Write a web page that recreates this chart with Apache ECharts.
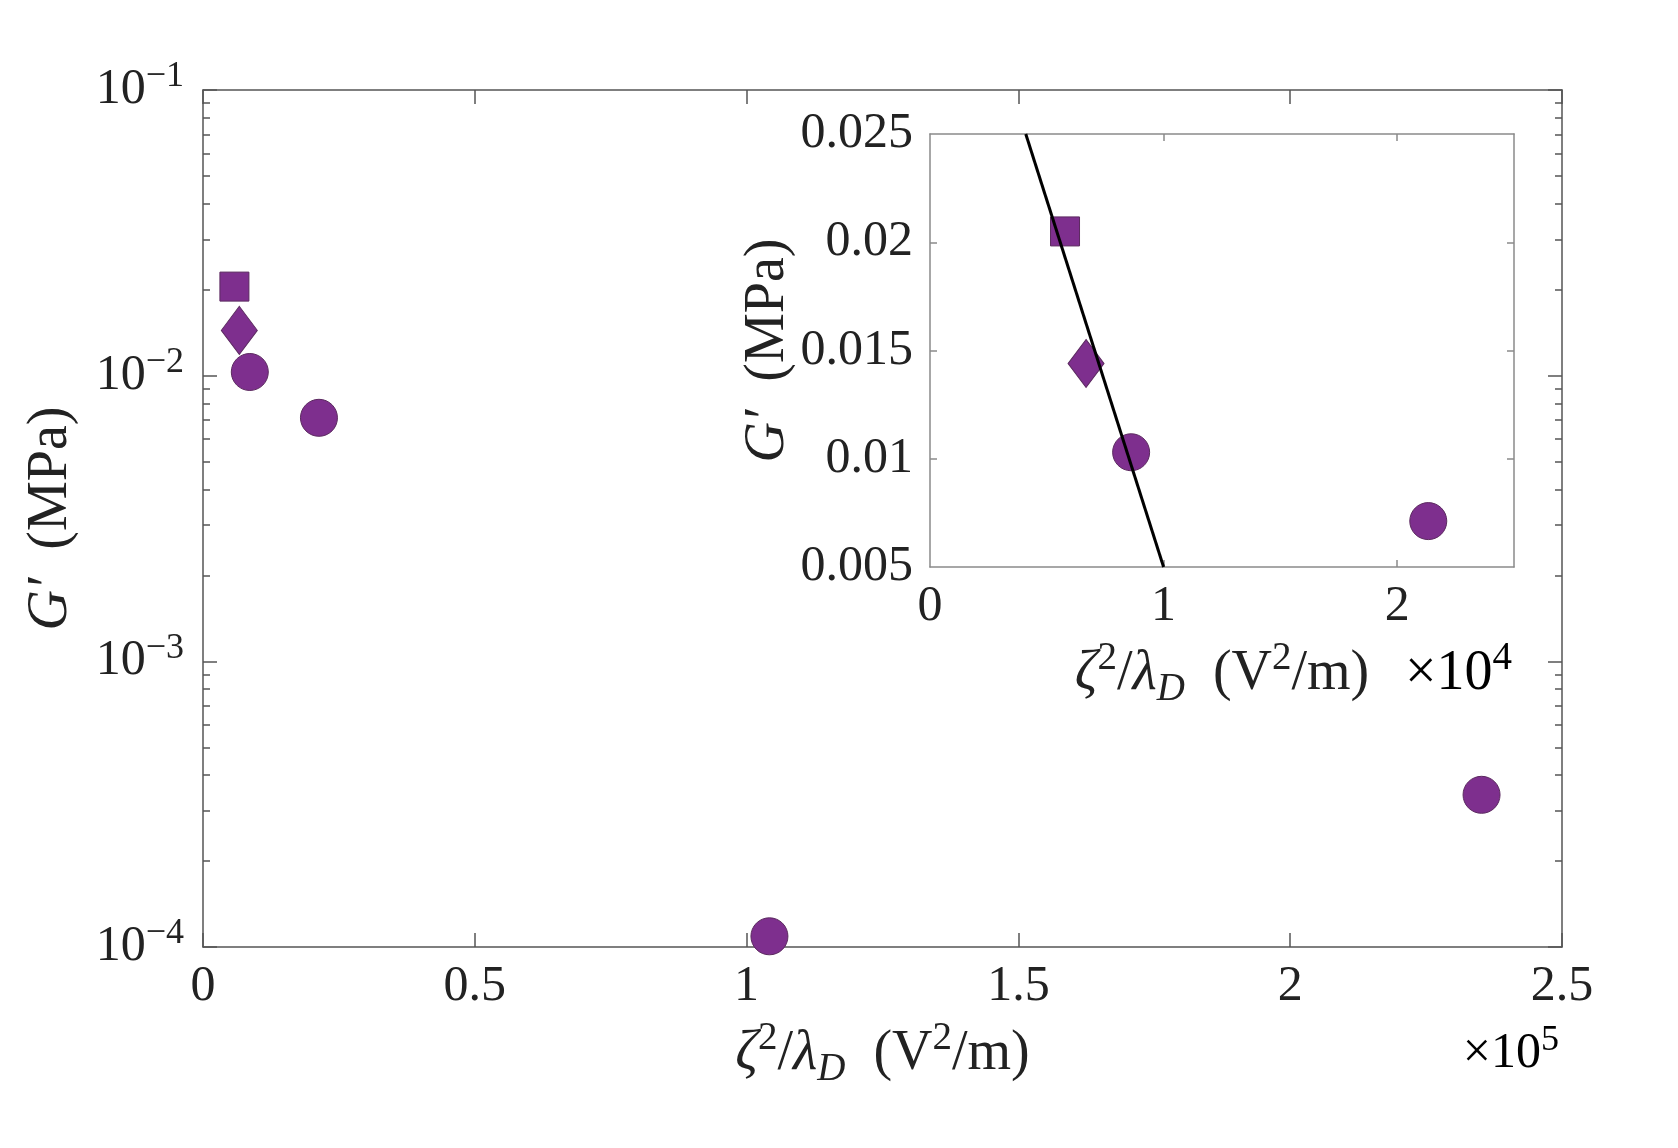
<!DOCTYPE html>
<html>
<head>
<meta charset="utf-8">
<script src="https://cdn.jsdelivr.net/npm/echarts@6/dist/echarts.min.js"></script>
<style>
html, body { margin: 0; padding: 0; background: #fff; }
#chart { width: 1678px; height: 1148px; }
</style>
</head>
<body>
<div id="chart"></div>
<script>
// G' against zeta^2/lambda_D, one marker shape per sample group
var squareX = [5780];
var squareG = [0.0205];
var diamondX = [6680];
var diamondG = [0.0144];
var circleX = [8610, 21330, 104200, 235200];
var circleG = [0.0103, 0.00712, 0.000109, 0.000341];

// straight fit drawn in the inset (ends on the inset frame)
var fitX = [4100, 10000];
var fitG = [0.025, 0.005];

// tick labels
var mainXTicks = ['0', '0.5', '1', '1.5', '2', '2.5'];
var mainYExps = ['−4', '−3', '−2', '−1'];
var mainYMinor = [2e-4, 3e-4, 4e-4, 5e-4, 6e-4, 7e-4, 8e-4, 9e-4,
                  2e-3, 3e-3, 4e-3, 5e-3, 6e-3, 7e-3, 8e-3, 9e-3,
                  2e-2, 3e-2, 4e-2, 5e-2, 6e-2, 7e-2, 8e-2, 9e-2];
var insetXTicks = ['0', '1', '2'];
var insetYTicks = ['0.005', '0.01', '0.015', '0.02', '0.025'];

var FONT = 'Liberation Serif';
var TXT = '#222';
var PURPLE = '#7E2F8E';
var EDGE = '#5c2a60';
var MAIN_LINE = '#555';
var INSET_LINE = '#8a8a8a';

// tick label text
var rich = {
    r: {fontFamily: FONT, fontSize: 50, color: TXT, lineHeight: 62, verticalAlign: 'middle'},
    sup: {fontFamily: FONT, fontSize: 36, color: TXT, lineHeight: 38, verticalAlign: 'top'}
};
// axis titles
var nameRich = {
    r: {fontFamily: FONT, fontSize: 56, color: TXT, lineHeight: 70, verticalAlign: 'middle'},
    i: {fontFamily: FONT, fontStyle: 'italic', fontSize: 56, color: TXT, lineHeight: 70, verticalAlign: 'middle'},
    sup: {fontFamily: FONT, fontSize: 39, color: TXT, lineHeight: 42, verticalAlign: 'top'},
    sub: {fontFamily: FONT, fontStyle: 'italic', fontSize: 39, color: TXT, lineHeight: 42, verticalAlign: 'bottom'}
};

var xName = '{i|ζ}{sup|2}{r|/}{i|λ}{sub|D}{r|  (V}{sup|2}{r|/m)}';
var yName = '{i|G′}{r|  (MPa)}';

var pts = function(xs, ys, maxX){
    var out = [];
    for (var i = 0; i < xs.length; i++) {
        if (maxX == null || xs[i] <= maxX) out.push([xs[i], ys[i]]);
    }
    return out;
};

var frameAxis = function(color, len, extra){
    var a = {
        axisLine: {show: true, onZero: false, lineStyle: {color: color, width: 1.5}},
        axisTick: {show: true, inside: true, length: len, lineStyle: {color: color, width: 1.5}},
        axisLabel: {show: false},
        splitLine: {show: false}
    };
    for (var k in extra) a[k] = extra[k];
    return a;
};

// log axis that only carries the 2..9 minor ticks
var minorAxis = function(pos){
    return {
        type: 'log', logBase: 10, gridIndex: 0, position: pos, min: 0.0001, max: 0.1,
        axisLine: {show: false, onZero: false}, axisLabel: {show: false}, splitLine: {show: false},
        axisTick: {show: true, inside: true, length: 7, customValues: mainYMinor, lineStyle: {color: MAIN_LINE, width: 1.5}}
    };
};

var markerSeries = function(name, symbol, size, xi, yi, data){
    return {
        name: name, type: 'scatter', xAxisIndex: xi, yAxisIndex: yi,
        symbol: symbol, symbolSize: size, data: data, z: 5,
        itemStyle: {color: PURPLE, borderColor: EDGE, borderWidth: 1, opacity: 1}
    };
};

var option = {
    backgroundColor: '#fff',
    animation: false,
    grid: [
        {left: 203, right: 116, top: 90, bottom: 201, show: false},
        {left: 930, right: 164, top: 134, bottom: 581, show: true, backgroundColor: '#fff', borderWidth: 0, z: 3}
    ],
    xAxis: [
        frameAxis(MAIN_LINE, 14, {
            type: 'value', gridIndex: 0, position: 'bottom', min: 0, max: 250000, interval: 50000,
            axisLabel: {show: true, margin: 9, formatter: function(v, i){ return '{r|' + mainXTicks[i] + '}'; }, rich: rich},
            name: xName, nameLocation: 'middle', nameGap: 72, nameTextStyle: {rich: nameRich}
        }),
        frameAxis(MAIN_LINE, 14, {type: 'value', gridIndex: 0, position: 'top', min: 0, max: 250000, interval: 50000}),
        frameAxis(INSET_LINE, 7, {
            type: 'value', gridIndex: 1, position: 'bottom', min: 0, max: 25000, z: 4,
            axisTick: {show: true, inside: true, length: 7, customValues: [10000, 20000], lineStyle: {color: INSET_LINE, width: 1.5}},
            axisLabel: {show: true, margin: 9, customValues: [0, 10000, 20000],
                formatter: function(v){ return '{r|' + insetXTicks[Math.round(v / 10000)] + '}'; }, rich: rich},
            name: xName, nameLocation: 'middle', nameGap: 72, nameTextStyle: {rich: nameRich}
        }),
        frameAxis(INSET_LINE, 7, {
            type: 'value', gridIndex: 1, position: 'top', min: 0, max: 25000, z: 4,
            axisTick: {show: true, inside: true, length: 7, customValues: [10000, 20000], lineStyle: {color: INSET_LINE, width: 1.5}}
        })
    ],
    yAxis: [
        frameAxis(MAIN_LINE, 14, {
            type: 'log', logBase: 10, gridIndex: 0, position: 'left', min: 0.0001, max: 0.1,
            axisLabel: {show: true, margin: 19, formatter: function(v, i){ return '{r|10}{sup|' + mainYExps[i] + '}'; }, rich: rich},
            name: yName, nameLocation: 'middle', nameGap: 117, nameTextStyle: {rich: nameRich}
        }),
        minorAxis('left'),
        frameAxis(MAIN_LINE, 14, {type: 'log', logBase: 10, gridIndex: 0, position: 'right', min: 0.0001, max: 0.1}),
        minorAxis('right'),
        frameAxis(INSET_LINE, 7, {
            type: 'value', gridIndex: 1, position: 'left', min: 0.005, max: 0.025, interval: 0.005, z: 4,
            axisTick: {show: true, inside: true, length: 7, customValues: [0.01, 0.015, 0.02], lineStyle: {color: INSET_LINE, width: 1.5}},
            axisLabel: {show: true, margin: 17, formatter: function(v, i){ return '{r|' + insetYTicks[i] + '}'; }, rich: rich},
            name: yName, nameLocation: 'middle', nameGap: 127, nameTextStyle: {rich: nameRich}
        }),
        frameAxis(INSET_LINE, 7, {
            type: 'value', gridIndex: 1, position: 'right', min: 0.005, max: 0.025, interval: 0.005, z: 4,
            axisTick: {show: true, inside: true, length: 7, customValues: [0.01, 0.015, 0.02], lineStyle: {color: INSET_LINE, width: 1.5}}
        })
    ],
    graphic: [
        {type: 'text', x: 1559, y: 1054, z: 10,
         style: {text: '{r|×10}{sup|5}', rich: rich, align: 'right', verticalAlign: 'middle', textAlign: 'right', textVerticalAlign: 'middle'}},
        {type: 'text', x: 1512, y: 674, z: 10,
         style: {text: '{r|×10}{sup|4}', rich: nameRich, align: 'right', verticalAlign: 'middle', textAlign: 'right', textVerticalAlign: 'middle'}}
    ],
    series: [
        markerSeries('square', 'rect', 29, 0, 0, pts(squareX, squareG)),
        markerSeries('diamond', 'diamond', [36, 48], 0, 0, pts(diamondX, diamondG)),
        markerSeries('circle', 'circle', 37, 0, 0, pts(circleX, circleG)),
        {
            name: 'fit', type: 'line', xAxisIndex: 2, yAxisIndex: 4, data: pts(fitX, fitG),
            showSymbol: false, symbol: 'none', z: 6, clip: true,
            lineStyle: {color: '#000', width: 3}
        },
        markerSeries('square-in', 'rect', 29, 2, 4, pts(squareX, squareG)),
        markerSeries('diamond-in', 'diamond', [36, 48], 2, 4, pts(diamondX, diamondG)),
        markerSeries('circle-in', 'circle', 37, 2, 4, pts(circleX, circleG, 25000))
    ]
};

var myChart = echarts.init(document.getElementById('chart'));
myChart.setOption(option);
</script>
</body>
</html>
